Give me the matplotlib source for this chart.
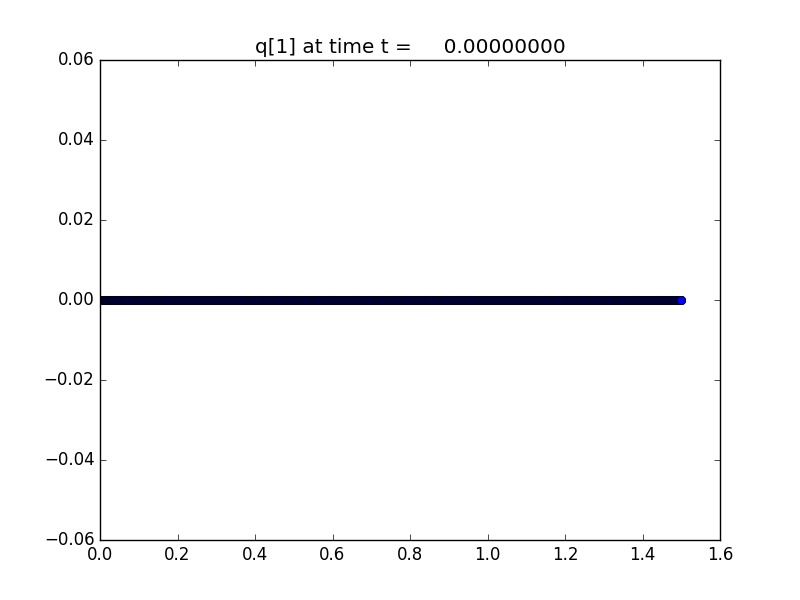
import numpy as np
import matplotlib
matplotlib.use("Agg")
import matplotlib.pyplot as plt

plt.style.use("classic")

# Data: grid from 0 to 1.5, solution q[1] identically zero at t = 0
x_start = 0.0
x_end = 1.5
n_points = 1500
q_value = 0.0
time_t = 0.0

x = np.linspace(x_start, x_end, n_points)
q = np.full_like(x, q_value)

fig = plt.figure(figsize=(8, 6), dpi=100)
ax = fig.add_subplot(111)
ax.plot(x, q, 'bo', markersize=6, markeredgewidth=0.5, markeredgecolor='k')
ax.set_xlim(0.0, 1.6)
ax.set_ylim(-0.06, 0.06)
ax.set_title('q[1] at time t = %14.8f' % time_t)
fig.savefig("out.png", dpi=100)
